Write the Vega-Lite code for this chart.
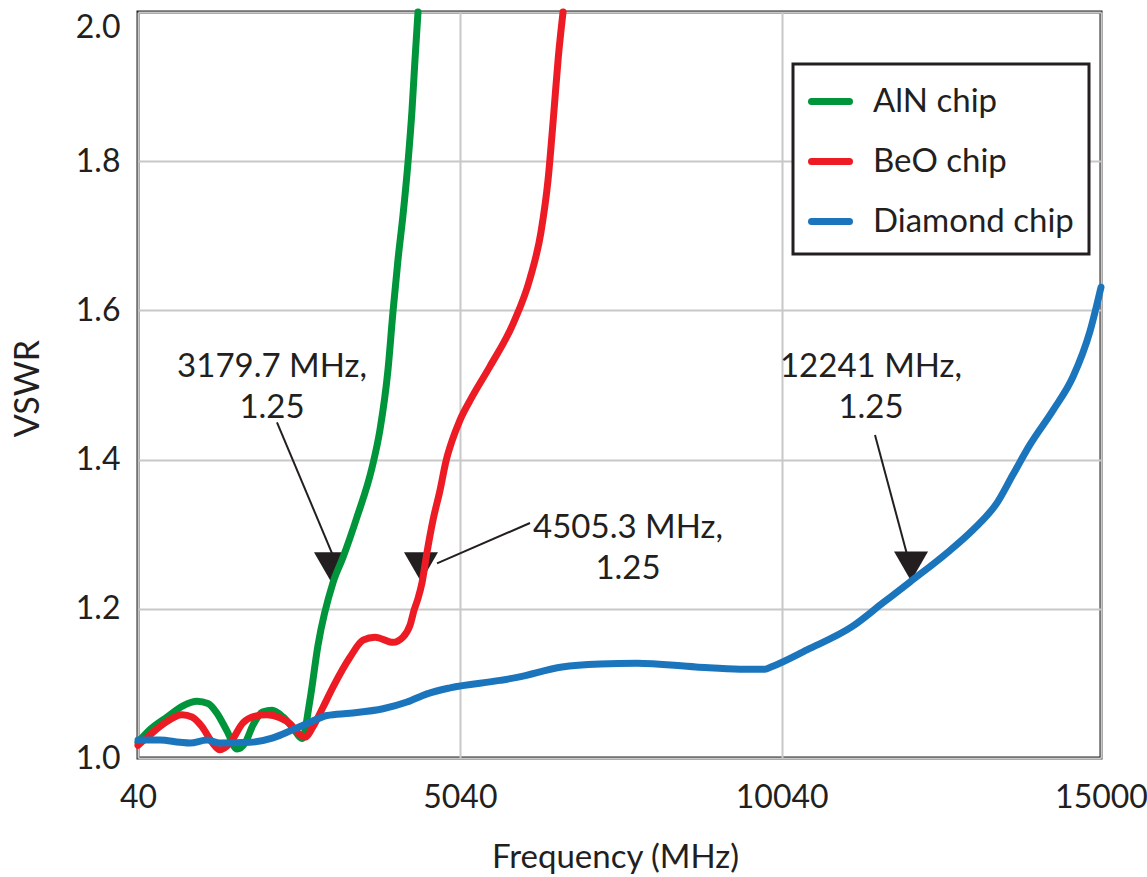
{
  "$schema": "https://vega.github.io/schema/vega-lite/v6.json",
  "width": 963,
  "height": 746,
  "autosize": {"type": "none"},
  "padding": {"left": 138, "top": 12, "right": 46, "bottom": 119},
  "background": "white",
  "config": {
    "font": "Lato",
    "view": {"stroke": "#231f20", "strokeWidth": 3},
    "axis": {
      "labelFont": "Lato",
      "titleFont": "Lato",
      "labelColor": "#231f20",
      "titleColor": "#231f20",
      "titleFontWeight": "normal",
      "gridColor": "#c8c8c8",
      "gridWidth": 2,
      "domain": false,
      "ticks": false
    }
  },
  "datasets": {
    "curves": [
      {"chip": "AlN chip", "f": 40, "v": 1.021},
      {"chip": "AlN chip", "f": 226, "v": 1.038},
      {"chip": "AlN chip", "f": 491, "v": 1.055},
      {"chip": "AlN chip", "f": 739, "v": 1.070},
      {"chip": "AlN chip", "f": 957, "v": 1.076},
      {"chip": "AlN chip", "f": 1127, "v": 1.073},
      {"chip": "AlN chip", "f": 1267, "v": 1.060},
      {"chip": "AlN chip", "f": 1423, "v": 1.036},
      {"chip": "AlN chip", "f": 1578, "v": 1.012},
      {"chip": "AlN chip", "f": 1702, "v": 1.020},
      {"chip": "AlN chip", "f": 1826, "v": 1.044},
      {"chip": "AlN chip", "f": 1982, "v": 1.062},
      {"chip": "AlN chip", "f": 2122, "v": 1.064},
      {"chip": "AlN chip", "f": 2293, "v": 1.055},
      {"chip": "AlN chip", "f": 2448, "v": 1.040},
      {"chip": "AlN chip", "f": 2588, "v": 1.026},
      {"chip": "AlN chip", "f": 2712, "v": 1.078},
      {"chip": "AlN chip", "f": 2836, "v": 1.151},
      {"chip": "AlN chip", "f": 3069, "v": 1.235},
      {"chip": "AlN chip", "f": 3225, "v": 1.269},
      {"chip": "AlN chip", "f": 3442, "v": 1.323},
      {"chip": "AlN chip", "f": 3675, "v": 1.389},
      {"chip": "AlN chip", "f": 3799, "v": 1.440},
      {"chip": "AlN chip", "f": 3923, "v": 1.520},
      {"chip": "AlN chip", "f": 4001, "v": 1.598},
      {"chip": "AlN chip", "f": 4079, "v": 1.668},
      {"chip": "AlN chip", "f": 4157, "v": 1.728},
      {"chip": "AlN chip", "f": 4234, "v": 1.798},
      {"chip": "AlN chip", "f": 4297, "v": 1.869},
      {"chip": "AlN chip", "f": 4343, "v": 1.936},
      {"chip": "AlN chip", "f": 4390, "v": 2.0},
      {"chip": "BeO chip", "f": 40, "v": 1.017},
      {"chip": "BeO chip", "f": 226, "v": 1.031},
      {"chip": "BeO chip", "f": 459, "v": 1.047},
      {"chip": "BeO chip", "f": 724, "v": 1.058},
      {"chip": "BeO chip", "f": 879, "v": 1.055},
      {"chip": "BeO chip", "f": 1034, "v": 1.042},
      {"chip": "BeO chip", "f": 1190, "v": 1.021},
      {"chip": "BeO chip", "f": 1314, "v": 1.011},
      {"chip": "BeO chip", "f": 1469, "v": 1.020},
      {"chip": "BeO chip", "f": 1671, "v": 1.047},
      {"chip": "BeO chip", "f": 1858, "v": 1.056},
      {"chip": "BeO chip", "f": 2044, "v": 1.058},
      {"chip": "BeO chip", "f": 2246, "v": 1.054},
      {"chip": "BeO chip", "f": 2401, "v": 1.046},
      {"chip": "BeO chip", "f": 2557, "v": 1.031},
      {"chip": "BeO chip", "f": 2634, "v": 1.028},
      {"chip": "BeO chip", "f": 2759, "v": 1.042},
      {"chip": "BeO chip", "f": 2914, "v": 1.068},
      {"chip": "BeO chip", "f": 3069, "v": 1.095},
      {"chip": "BeO chip", "f": 3333, "v": 1.135},
      {"chip": "BeO chip", "f": 3535, "v": 1.158},
      {"chip": "BeO chip", "f": 3722, "v": 1.162},
      {"chip": "BeO chip", "f": 4001, "v": 1.155},
      {"chip": "BeO chip", "f": 4157, "v": 1.162},
      {"chip": "BeO chip", "f": 4266, "v": 1.178},
      {"chip": "BeO chip", "f": 4328, "v": 1.198},
      {"chip": "BeO chip", "f": 4390, "v": 1.214},
      {"chip": "BeO chip", "f": 4452, "v": 1.235},
      {"chip": "BeO chip", "f": 4530, "v": 1.276},
      {"chip": "BeO chip", "f": 4623, "v": 1.319},
      {"chip": "BeO chip", "f": 4732, "v": 1.359},
      {"chip": "BeO chip", "f": 4825, "v": 1.398},
      {"chip": "BeO chip", "f": 4918, "v": 1.425},
      {"chip": "BeO chip", "f": 5042, "v": 1.453},
      {"chip": "BeO chip", "f": 5229, "v": 1.484},
      {"chip": "BeO chip", "f": 5508, "v": 1.525},
      {"chip": "BeO chip", "f": 5866, "v": 1.582},
      {"chip": "BeO chip", "f": 6130, "v": 1.643},
      {"chip": "BeO chip", "f": 6300, "v": 1.705},
      {"chip": "BeO chip", "f": 6410, "v": 1.775},
      {"chip": "BeO chip", "f": 6495, "v": 1.860},
      {"chip": "BeO chip", "f": 6570, "v": 1.940},
      {"chip": "BeO chip", "f": 6643, "v": 2.0},
      {"chip": "Diamond chip", "f": 40, "v": 1.024},
      {"chip": "Diamond chip", "f": 382, "v": 1.024},
      {"chip": "Diamond chip", "f": 692, "v": 1.021},
      {"chip": "Diamond chip", "f": 848, "v": 1.020},
      {"chip": "Diamond chip", "f": 1112, "v": 1.024},
      {"chip": "Diamond chip", "f": 1314, "v": 1.020},
      {"chip": "Diamond chip", "f": 1780, "v": 1.021},
      {"chip": "Diamond chip", "f": 2137, "v": 1.027},
      {"chip": "Diamond chip", "f": 2448, "v": 1.038},
      {"chip": "Diamond chip", "f": 2712, "v": 1.048},
      {"chip": "Diamond chip", "f": 2976, "v": 1.057},
      {"chip": "Diamond chip", "f": 3333, "v": 1.060},
      {"chip": "Diamond chip", "f": 3846, "v": 1.066},
      {"chip": "Diamond chip", "f": 4219, "v": 1.075},
      {"chip": "Diamond chip", "f": 4530, "v": 1.086},
      {"chip": "Diamond chip", "f": 4887, "v": 1.094},
      {"chip": "Diamond chip", "f": 5664, "v": 1.104},
      {"chip": "Diamond chip", "f": 5928, "v": 1.108},
      {"chip": "Diamond chip", "f": 6627, "v": 1.122},
      {"chip": "Diamond chip", "f": 7217, "v": 1.126},
      {"chip": "Diamond chip", "f": 7792, "v": 1.127},
      {"chip": "Diamond chip", "f": 8708, "v": 1.122},
      {"chip": "Diamond chip", "f": 9392, "v": 1.119},
      {"chip": "Diamond chip", "f": 9780, "v": 1.119},
      {"chip": "Diamond chip", "f": 9873, "v": 1.122},
      {"chip": "Diamond chip", "f": 10432, "v": 1.145},
      {"chip": "Diamond chip", "f": 11132, "v": 1.176},
      {"chip": "Diamond chip", "f": 11613, "v": 1.208},
      {"chip": "Diamond chip", "f": 12033, "v": 1.236},
      {"chip": "Diamond chip", "f": 12608, "v": 1.275},
      {"chip": "Diamond chip", "f": 13012, "v": 1.306},
      {"chip": "Diamond chip", "f": 13385, "v": 1.342},
      {"chip": "Diamond chip", "f": 13633, "v": 1.380},
      {"chip": "Diamond chip", "f": 13897, "v": 1.420},
      {"chip": "Diamond chip", "f": 14254, "v": 1.466},
      {"chip": "Diamond chip", "f": 14565, "v": 1.511},
      {"chip": "Diamond chip", "f": 14829, "v": 1.572},
      {"chip": "Diamond chip", "f": 15000, "v": 1.631}
    ],
    "arrows": [
      {"f": 2199, "v": 1.450, "f2": 3100, "v2": 1.265},
      {"f": 6130, "v": 1.315, "f2": 4685, "v2": 1.261},
      {"f": 11489, "v": 1.433, "f2": 12064, "v2": 1.248}
    ],
    "markers": [
      {"f": 3038, "v": 1.256},
      {"f": 4436, "v": 1.256},
      {"f": 12049, "v": 1.257}
    ],
    "labels": [
      {"f": 2122, "v": 1.511, "label": "3179.7 MHz,\n1.25"},
      {"f": 7652, "v": 1.295, "label": "4505.3 MHz,\n1.25"},
      {"f": 11427, "v": 1.511, "label": "12241 MHz,\n1.25"}
    ]
  },
  "encoding": {
    "x": {
      "field": "f",
      "type": "quantitative",
      "title": "Frequency (MHz)",
      "scale": {"domain": [40, 15000], "nice": false, "zero": false},
      "axis": {
        "values": [40, 5040, 10040, 15000],
        "format": "d",
        "grid": true,
        "labelFlush": false,
        "labelOverlap": false,
        "labelFontSize": 32,
        "labelPadding": 24,
        "titleFontSize": 33,
        "titleX": 477,
        "titleY": 109,
        "titleAlign": "center",
        "titleBaseline": "alphabetic"
      }
    },
    "y": {
      "field": "v",
      "type": "quantitative",
      "title": "VSWR",
      "scale": {"domain": [1, 2], "nice": false, "zero": false},
      "axis": {
        "values": [1, 1.2, 1.4, 1.6, 1.8, 2],
        "format": ".1f",
        "grid": true,
        "labelOverlap": false,
        "labelFontSize": 32,
        "labelPadding": 18,
        "labelBaseline": {"condition": {"test": "datum.value >= 2", "value": "top"}, "value": "middle"},
        "titleFontSize": 34,
        "titleAngle": -90,
        "titleX": -110,
        "titleY": 376,
        "titleAlign": "center",
        "titleBaseline": "middle"
      }
    }
  },
  "layer": [
    {
      "data": {"name": "arrows"},
      "mark": {"type": "rule", "color": "#231f20", "strokeWidth": 2},
      "encoding": {
        "x2": {"field": "f2"},
        "y2": {"field": "v2"}
      }
    },
    {
      "data": {"name": "markers"},
      "mark": {"type": "point", "shape": "triangle-down", "filled": true, "size": 1156, "color": "#231f20", "opacity": 1}
    },
    {
      "data": {"name": "labels"},
      "mark": {"type": "text", "lineBreak": "\n", "fontSize": 33, "lineHeight": 41, "align": "center", "baseline": "alphabetic", "color": "#231f20", "font": "Lato"},
      "encoding": {
        "text": {"field": "label"}
      }
    },
    {
      "data": {"name": "curves"},
      "mark": {"type": "line", "strokeWidth": 7, "interpolate": "monotone", "strokeCap": "round", "strokeJoin": "round"},
      "encoding": {
        "color": {
          "field": "chip",
          "type": "nominal",
          "scale": {"domain": ["AlN chip", "BeO chip", "Diamond chip"], "range": ["#00953a", "#ed1c24", "#1b75bc"]},
          "legend": {
            "title": null,
            "orient": "none",
            "legendX": 655,
            "legendY": 52,
            "padding": 15,
            "strokeColor": "#231f20",
            "fillColor": "white",
            "symbolType": "stroke",
            "symbolSize": 1444,
            "symbolStrokeWidth": 7,
            "labelFontSize": 33,
            "labelFont": "Lato",
            "labelColor": "#231f20",
            "labelOffset": 20,
            "labelLimit": 400,
            "rowPadding": 20,
            "encode": {
              "legend": {"update": {"strokeWidth": {"value": 3}}},
              "symbols": {"update": {"strokeCap": {"value": "round"}}}
            }
          }
        }
      }
    }
  ]
}
